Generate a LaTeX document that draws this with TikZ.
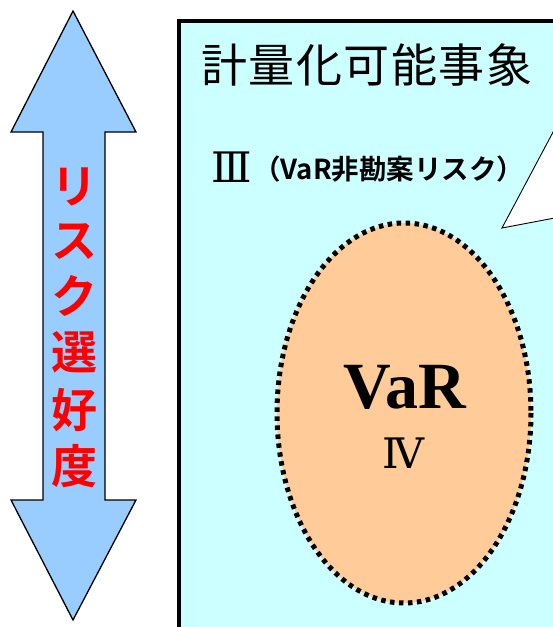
\documentclass[tikz,border=0pt]{standalone}
\usepackage{fontspec}
\newfontfamily\jpfont{Noto Sans CJK JP}
\newfontfamily\jpbfont{Noto Sans CJK JP Bold}
\newfontfamily\romfont{DejaVu Serif}
\newfontfamily\timesfont{Liberation Serif}
\definecolor{arrowblue}{HTML}{99CCFF}
\definecolor{boxcyan}{HTML}{CCFFFF}
\definecolor{varfill}{HTML}{FFCC99}
\tikzset{
  redtxt/.style={text=red, font=\jpbfont\fontsize{46}{46}\selectfont, inner sep=0pt},
}
\begin{document}
\begin{tikzpicture}[x=1pt,y=-1pt]
\useasboundingbox (0,0) rectangle (553,627);
% double arrow
\draw[fill=arrowblue, line width=1.3pt, line join=miter]
  (73,11) -- (136,132) -- (105,132) -- (105,500) -- (136,500) -- (73,620)
  -- (11,500) -- (43,500) -- (43,132) -- (11,132) -- cycle;
\node[redtxt] (c1) at (74,187) {リ};
\node[redtxt] (c2) at (74,242) {ス};
\node[redtxt] (c3) at (74,296) {ク};
\node[redtxt] (c4) at (74,352) {選};
\node[redtxt] (c5) at (74,410) {好};
\node[redtxt] (c6) at (74,466) {度};
% box
\fill[boxcyan] (179,21) rectangle (560,640);
\draw[line width=3.4pt] (179,640) -- (179,21) -- (560,21);
\node[font=\jpfont\fontsize{46}{46}\selectfont, inner sep=0pt] (title) at (367,65)
  {計\hspace{1.5pt}量\hspace{1.5pt}化\hspace{1.5pt}可\hspace{1.5pt}能\hspace{1.5pt}事\hspace{1.5pt}象};
\node[anchor=west, inner sep=0pt, font=\romfont\fontsize{42}{42}\selectfont] (r3) at (211,167) {Ⅲ};
\node[anchor=west, inner sep=0pt, font=\jpbfont\fontsize{27.5}{27.5}\selectfont] (lbl3) at (253,169) {（VaR非勘案リスク）};
% callout
\coordinate (cu) at (560,119);
\coordinate (cl) at (560,217);
\coordinate (cp) at (502,228);
\draw[fill=white, line width=0.9pt] (cu) -- (cp) -- (cl);
% ellipse
\draw[fill=varfill, line width=5pt, dash pattern=on 4.5pt off 4.5pt]
  (404,413) ellipse [x radius=127, y radius=190];
\node[font=\timesfont\bfseries\fontsize{66}{66}\selectfont, inner sep=0pt] (var) at (405,387) {VaR};
\node[font=\romfont\fontsize{42}{42}\selectfont, inner sep=0pt] (r4) at (403,453) {Ⅳ};
\end{tikzpicture}
\end{document}
